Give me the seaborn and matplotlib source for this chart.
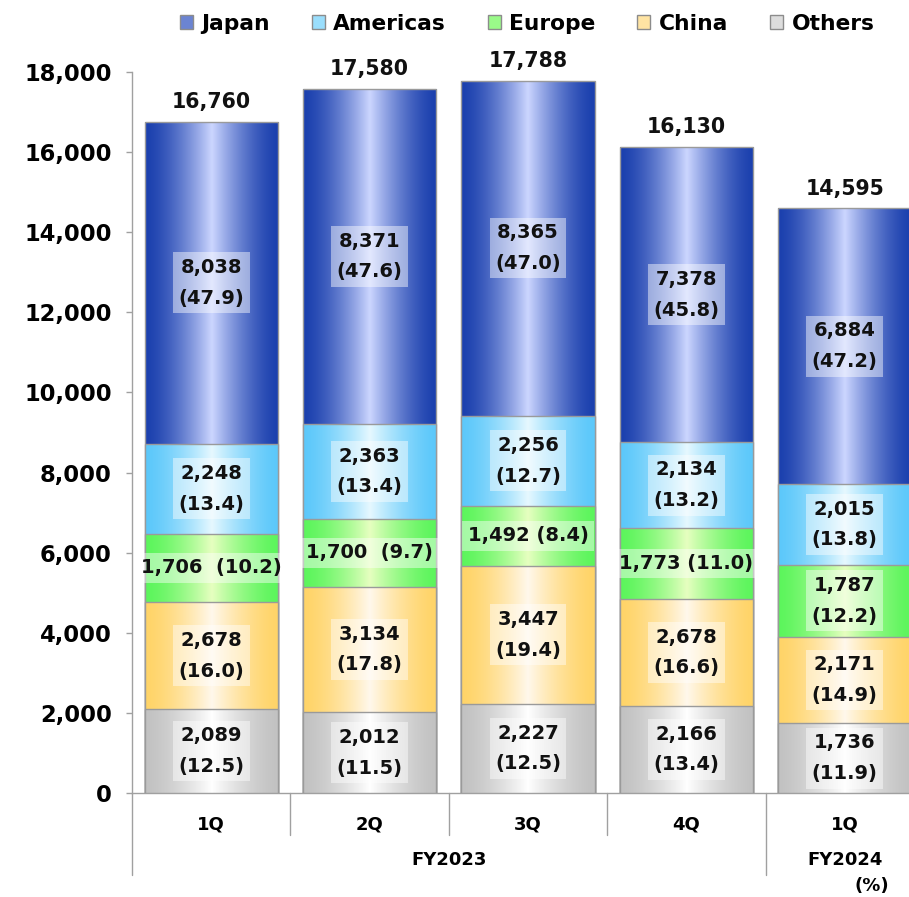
import numpy as np
import pandas as pd
import matplotlib
matplotlib.use("Agg")
import matplotlib.pyplot as plt
import matplotlib.colors as mcolors
from matplotlib.patches import Patch, Rectangle
from matplotlib.ticker import FuncFormatter
import seaborn as sns

# ---------------- data ----------------
periods = ["FY2023 1Q", "FY2023 2Q", "FY2023 3Q", "FY2023 4Q", "FY2024 1Q"]
quarter_labels = ["1Q", "2Q", "3Q", "4Q", "1Q"]
years = ["FY2023", "FY2024"]
regions = ["Japan", "Americas", "Europe", "China", "Others"]

japan = [8038, 8371, 8365, 7378, 6884]
americas = [2248, 2363, 2256, 2134, 2015]
europe = [1706, 1700, 1492, 1773, 1787]
china = [2678, 3134, 3447, 2678, 2171]
others = [2089, 2012, 2227, 2166, 1736]

japan_pct = [47.9, 47.6, 47.0, 45.8, 47.2]
americas_pct = [13.4, 13.4, 12.7, 13.2, 13.8]
europe_pct = [10.2, 9.7, 8.4, 11.0, 12.2]
china_pct = [16.0, 17.8, 19.4, 16.6, 14.9]
others_pct = [12.5, 11.5, 12.5, 13.4, 11.9]

totals = [16760, 17580, 17788, 16130, 14595]

# ---------------- style ----------------
sns.set_theme(style="white")
plt.rcParams["font.family"] = ["DejaVu Sans"]
plt.rcParams["font.weight"] = "bold"
plt.rcParams["text.color"] = "black"
plt.rcParams["xtick.color"] = "black"
plt.rcParams["ytick.color"] = "black"
plt.rcParams["xtick.labelcolor"] = "black"
plt.rcParams["ytick.labelcolor"] = "black"

values = {"Japan": japan, "Americas": americas, "Europe": europe,
          "China": china, "Others": others}
pcts = {"Japan": japan_pct, "Americas": americas_pct, "Europe": europe_pct,
        "China": china_pct, "Others": others_pct}
colors = {  # (edge, centre) of horizontal gradient
    "Japan": ("#1B40AE", "#CCD6FF"),
    "Americas": ("#5CC8FA", "#E6F8FF"),
    "Europe": ("#5CF55C", "#E6FFC0"),
    "China": ("#FFD468", "#FFF8EC"),
    "Others": ("#C2C2C2", "#FFFFFF"),
}
stack_order = ["Others", "China", "Europe", "Americas", "Japan"]  # bottom -> top

df = pd.DataFrame({"period": periods})
running = np.zeros(len(periods))
for r in stack_order:
    df[r] = values[r]
    df[r + "_bottom"] = running.copy()
    running = running + np.array(values[r])
    df[r + "_top"] = running.copy()


def gradient_img(edge, center, n=256, power=1.5):
    e = np.array(mcolors.to_rgb(edge))
    c = np.array(mcolors.to_rgb(center))
    t = np.linspace(-1, 1, n)
    w = (1 - np.abs(t)) ** power
    arr = e[None, :] * (1 - w[:, None]) + c[None, :] * w[:, None]
    return arr[None, :, :]


W, H = 909, 897
fig = plt.figure(figsize=(W / 100, H / 100), dpi=100)
ax = fig.add_axes([132 / W, 1 - 793 / H, (924 - 132) / W, (793 - 72) / H])

edge_gray = "#9A9A9A"
draw_order = list(reversed(stack_order))  # tallest cumulative first
for k, r in enumerate(draw_order):
    z = 3 + 3 * k
    n_before = len(ax.patches)
    sns.barplot(data=df, x="period", y=r + "_top", order=periods,
                color=colors[r][0], width=0.84, errorbar=None,
                edgecolor="none", linewidth=0, ax=ax)
    new = ax.patches[n_before:]
    img = gradient_img(*colors[r])
    for p in new:
        p.set_zorder(z)
        x0, y0, w, h = p.get_x(), p.get_y(), p.get_width(), p.get_height()
        im = ax.imshow(img, extent=[x0, x0 + w, y0, y0 + h], aspect="auto",
                       origin="lower", interpolation="bilinear", zorder=z + 0.5)
        im.set_clip_path(p)
        ax.add_patch(Rectangle((x0, y0), w, h, fill=False, ec=edge_gray,
                               lw=1.0, zorder=z + 0.6))

ax.set_xlim(-0.5, 4.5)
ax.set_ylim(0, 18000)
ax.set_aspect("auto")

# ---------------- labels in segments ----------------
box = dict(boxstyle="square,pad=0.28", facecolor="white", alpha=0.45,
           edgecolor="none")
europe_inline = ["1,706  (10.2)", "1,700  (9.7)", "1,492 (8.4)", "1,773 (11.0)", None]
for r in stack_order:
    for i in range(len(periods)):
        mid = (df[r + "_bottom"][i] + df[r + "_top"][i]) / 2
        if r == "Europe" and europe_inline[i] is not None:
            txt = europe_inline[i]
        else:
            txt = f"{values[r][i]:,}\n({pcts[r][i]:.1f})"
        ax.text(i, mid, txt, ha="center", va="center", fontsize=14,
                fontweight="bold", color="#111111", linespacing=1.78,
                bbox=box, zorder=40)

# totals
for i, t in enumerate(totals):
    ax.annotate(f"{t:,}", (i, df["Japan_top"][i]), xytext=(0, 7),
                textcoords="offset points", ha="center", va="bottom",
                fontsize=14.8, fontweight="bold", color="#111111", zorder=40)

# ---------------- axes ----------------
for s in ["top", "right"]:
    ax.spines[s].set_visible(False)
for s in ["left", "bottom"]:
    ax.spines[s].set_color("#A0A0A0")
    ax.spines[s].set_linewidth(1.0)

ax.set_yticks(np.arange(0, 18001, 2000))
ax.yaxis.set_major_formatter(FuncFormatter(lambda v, p: f"{int(v):,}"))
ax.tick_params(axis="y", left=True, length=4.5, width=1, color="#A0A0A0",
               labelcolor="black", pad=10, labelsize=16.3)
for lbl in ax.get_yticklabels():
    lbl.set_fontweight("bold")

ax.set_xticks(range(len(periods)))
ax.set_xticklabels(quarter_labels, fontsize=13, fontweight="bold")
ax.tick_params(axis="x", length=0, pad=16, labelcolor="black")
ax.set_xlabel("")
ax.set_ylabel("")

trans = ax.get_xaxis_transform()
for xb in [0.5, 1.5, 2.5]:
    ax.plot([xb, xb], [0, -0.058], transform=trans, color="#A0A0A0", lw=1,
            clip_on=False, zorder=1)
for xb in [-0.5, 3.5]:
    ax.plot([xb, xb], [0, -0.114], transform=trans, color="#A0A0A0", lw=1,
            clip_on=False, zorder=1)

ax.text(1.5, -0.093, years[0], transform=trans, ha="center", va="center",
        fontsize=13, fontweight="bold", color="black")
ax.text(4.0, -0.093, years[1], transform=trans, ha="center", va="center",
        fontsize=13, fontweight="bold", color="black")
fig.text(872 / W, 1 - 886 / H, "(%)", ha="center", va="center",
         fontsize=13, fontweight="bold", color="black")

# ---------------- legend ----------------
handles = [Patch(facecolor=mcolors.to_hex(
    0.55 * np.array(mcolors.to_rgb(colors[r][0])) +
    0.45 * np.array(mcolors.to_rgb(colors[r][1]))),
    edgecolor="#8C8C8C", linewidth=1, label=r) for r in regions]
leg = fig.legend(handles=handles, loc="center", bbox_to_anchor=(527 / W, 1 - 24 / H),
                 ncol=5, frameon=False, handlelength=0.6,
                 handleheight=0.6, handletextpad=0.4, columnspacing=1.9,
                 borderpad=0, prop={"weight": "bold", "size": 15.7})
for t in leg.get_texts():
    t.set_color("black")

fig.savefig("out.png", dpi=100)
